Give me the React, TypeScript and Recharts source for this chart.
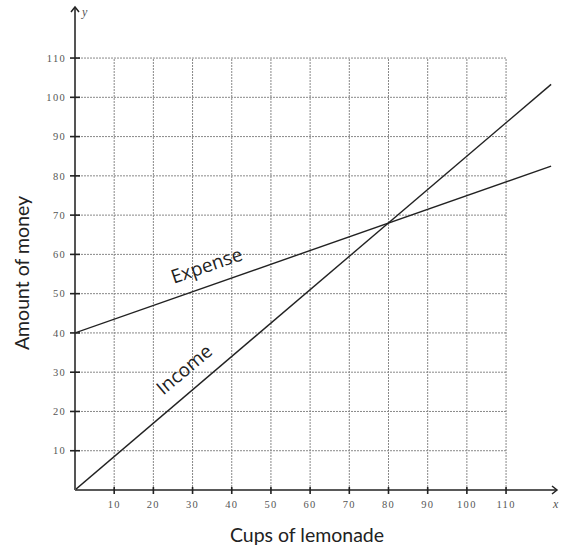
import React from 'react';
import { LineChart, Line, XAxis, YAxis, ReferenceLine, ReferenceDot } from 'recharts';

const cups = [0, 121.5];
const income = [0, 103.3];
const expense = [40, 82.5];
const xTicks = [10, 20, 30, 40, 50, 60, 70, 80, 90, 100, 110];
const yTicks = [10, 20, 30, 40, 50, 60, 70, 80, 90, 100, 110];
const gridMax = 110;
const axisMax = 123;

const data = cups.map((c, i) => ({ cups: c, income: income[i], expense: expense[i] }));

const tickFont = { fontFamily: '"Liberation Serif", serif', fontSize: 10.5, fill: '#555', letterSpacing: 1.3 };

const XTick = (props: any) => {
  const { x, y, payload } = props;
  return (
    <g>
      <line x1={x} x2={x} y1={y - 3} y2={y + 4} stroke="#222" strokeWidth={1.6} />
      <text x={x} y={y + 18} textAnchor="middle" {...tickFont}>{payload.value}</text>
    </g>
  );
};

const YTick = (props: any) => {
  const { x, y, payload } = props;
  return (
    <g>
      <line x1={x - 5} x2={x + 5} y1={y} y2={y} stroke="#222" strokeWidth={1.6} />
      <text x={x - 9} y={y} dy="0.35em" textAnchor="end" {...tickFont}>{payload.value}</text>
    </g>
  );
};

const titleFont = { fontFamily: 'Lato, "Noto Sans", sans-serif', fontSize: 19.5, fontWeight: 400, fill: '#222' };
const lineLabelFont = { fontFamily: '"Open Sans", sans-serif', fontSize: 19, fill: '#222' };

const rotatedText = (text: string, angle: number) => (p: any) => (
  <text
    x={p.cx}
    y={p.cy}
    textAnchor="middle"
    dominantBaseline="middle"
    transform={`rotate(${angle} ${p.cx} ${p.cy})`}
    {...lineLabelFont}
  >
    {text}
  </text>
);

const YArrow = (p: any) => (
  <g>
    <path d={`M${p.cx - 4},${p.cy + 5} L${p.cx},${p.cy} L${p.cx + 4},${p.cy + 5}`} fill="none" stroke="#222" strokeWidth={1.5} />
    <text x={p.cx + 7} y={p.cy + 9} fontFamily='"Liberation Serif", serif' fontStyle="italic" fontSize={12} fill="#555">y</text>
  </g>
);

const XArrow = (p: any) => (
  <g>
    <path d={`M${p.cx - 5},${p.cy - 4} L${p.cx},${p.cy} L${p.cx - 5},${p.cy + 4}`} fill="none" stroke="#222" strokeWidth={1.5} />
    <text x={p.cx - 4} y={p.cy + 18} fontFamily='"Liberation Serif", serif' fontStyle="italic" fontSize={12} fill="#555">x</text>
  </g>
);

export default function App() {
  return (
    <div style={{ position: 'absolute', left: 0, top: 0, background: '#fff' }}>
      <LineChart width={569} height={550} data={data} margin={{ top: 7, right: 12, bottom: 30, left: 35 }}>
        <XAxis
          dataKey="cups"
          type="number"
          domain={[0, axisMax]}
          ticks={xTicks}
          allowDataOverflow
          interval={0}
          height={30}
          tickSize={0}
          tickMargin={0}
          tickLine={false}
          tick={XTick}
          axisLine={{ stroke: '#222', strokeWidth: 1.6 }}
          label={{
            value: 'Cups of lemonade',
            content: () => (
              <text x={307} y={542} textAnchor="middle" {...titleFont}>Cups of lemonade</text>
            ),
          }}
        />
        <YAxis
          type="number"
          domain={[0, axisMax]}
          ticks={yTicks}
          allowDataOverflow
          interval={0}
          width={40}
          tickSize={0}
          tickMargin={0}
          tickLine={false}
          tick={YTick}
          axisLine={{ stroke: '#555', strokeWidth: 2 }}
          label={{
            value: 'Amount of money',
            content: () => (
              <text x={29} y={273} textAnchor="middle" transform="rotate(-90 29 273)" {...titleFont}>Amount of money</text>
            ),
          }}
        />
        {xTicks.map((v) => (
          <ReferenceLine
            key={`gx${v}`}
            segment={[{ x: v, y: 0 }, { x: v, y: gridMax }]}
            stroke="#888"
            strokeDasharray="2 1"
            strokeWidth={1}
          />
        ))}
        {yTicks.map((v) => (
          <ReferenceLine
            key={`gy${v}`}
            segment={[{ x: 0, y: v }, { x: gridMax, y: v }]}
            stroke="#888"
            strokeDasharray="2 1"
            strokeWidth={1}
          />
        ))}
        <Line dataKey="income" stroke="#222" strokeWidth={1.4} dot={false} isAnimationActive={false} />
        <Line dataKey="expense" stroke="#222" strokeWidth={1.4} dot={false} isAnimationActive={false} />
        <ReferenceDot x={33.7} y={56.8} r={0} shape={rotatedText('Expense', -19)} />
        <ReferenceDot x={28.1} y={30.4} r={0} shape={rotatedText('Income', -40)} />
        <ReferenceDot x={0} y={axisMax} r={0} shape={YArrow} />
        <ReferenceDot x={axisMax} y={0} r={0} shape={XArrow} />
      </LineChart>
    </div>
  );
}
